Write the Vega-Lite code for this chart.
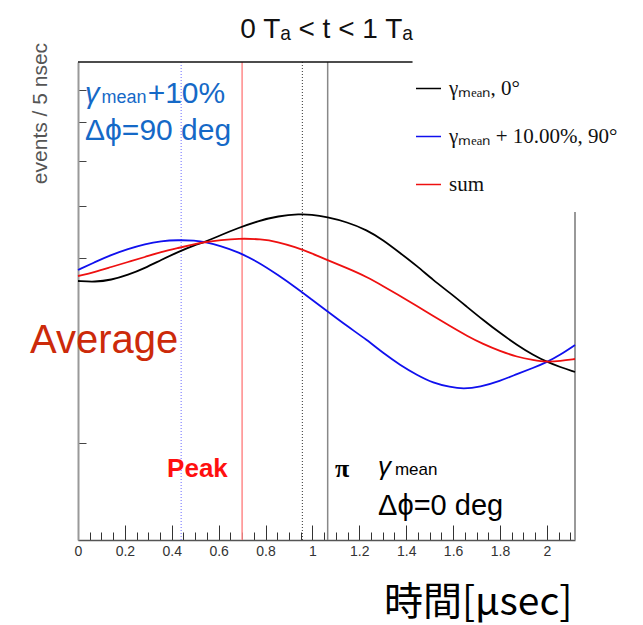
{
  "$schema": "https://vega.github.io/schema/vega-lite/v6.json",
  "width": 497,
  "height": 478,
  "autosize": {"type": "none"},
  "padding": {"left": 78, "top": 62, "right": 68, "bottom": 85},
  "background": "white",
  "config": {"view": {"stroke": null}, "axis": {"grid": false}},
  "title": {"text": "0 Tₐ < t < 1 Tₐ", "font": "Liberation Sans", "fontSize": 28, "fontWeight": "normal", "color": "#111", "anchor": "middle", "offset": 3, "dy": 5},
  "datasets": {
    "curves": [
      {"series": "γₘₑₐₙ, 0°", "t": 0.000, "v": 259},
      {"series": "γₘₑₐₙ, 0°", "t": 0.073, "v": 258},
      {"series": "γₘₑₐₙ, 0°", "t": 0.141, "v": 260},
      {"series": "γₘₑₐₙ, 0°", "t": 0.213, "v": 265},
      {"series": "γₘₑₐₙ, 0°", "t": 0.286, "v": 272},
      {"series": "γₘₑₐₙ, 0°", "t": 0.354, "v": 280},
      {"series": "γₘₑₐₙ, 0°", "t": 0.427, "v": 288},
      {"series": "γₘₑₐₙ, 0°", "t": 0.499, "v": 295},
      {"series": "γₘₑₐₙ, 0°", "t": 0.542, "v": 298},
      {"series": "γₘₑₐₙ, 0°", "t": 0.610, "v": 305},
      {"series": "γₘₑₐₙ, 0°", "t": 0.683, "v": 312},
      {"series": "γₘₑₐₙ, 0°", "t": 0.768, "v": 319},
      {"series": "γₘₑₐₙ, 0°", "t": 0.853, "v": 324},
      {"series": "γₘₑₐₙ, 0°", "t": 0.947, "v": 326},
      {"series": "γₘₑₐₙ, 0°", "t": 0.994, "v": 325.5},
      {"series": "γₘₑₐₙ, 0°", "t": 1.062, "v": 323},
      {"series": "γₘₑₐₙ, 0°", "t": 1.147, "v": 318},
      {"series": "γₘₑₐₙ, 0°", "t": 1.233, "v": 310},
      {"series": "γₘₑₐₙ, 0°", "t": 1.301, "v": 300},
      {"series": "γₘₑₐₙ, 0°", "t": 1.374, "v": 287},
      {"series": "γₘₑₐₙ, 0°", "t": 1.446, "v": 274},
      {"series": "γₘₑₐₙ, 0°", "t": 1.515, "v": 260},
      {"series": "γₘₑₐₙ, 0°", "t": 1.587, "v": 247},
      {"series": "γₘₑₐₙ, 0°", "t": 1.660, "v": 233},
      {"series": "γₘₑₐₙ, 0°", "t": 1.728, "v": 220},
      {"series": "γₘₑₐₙ, 0°", "t": 1.800, "v": 207},
      {"series": "γₘₑₐₙ, 0°", "t": 1.873, "v": 195},
      {"series": "γₘₑₐₙ, 0°", "t": 1.941, "v": 185},
      {"series": "γₘₑₐₙ, 0°", "t": 2.001, "v": 178},
      {"series": "γₘₑₐₙ, 0°", "t": 2.056, "v": 173},
      {"series": "γₘₑₐₙ, 0°", "t": 2.120, "v": 168},
      {"series": "γₘₑₐₙ + 10.00%, 90°", "t": 0.000, "v": 270},
      {"series": "γₘₑₐₙ + 10.00%, 90°", "t": 0.073, "v": 278},
      {"series": "γₘₑₐₙ + 10.00%, 90°", "t": 0.141, "v": 285},
      {"series": "γₘₑₐₙ + 10.00%, 90°", "t": 0.213, "v": 291},
      {"series": "γₘₑₐₙ + 10.00%, 90°", "t": 0.286, "v": 296},
      {"series": "γₘₑₐₙ + 10.00%, 90°", "t": 0.354, "v": 299},
      {"series": "γₘₑₐₙ + 10.00%, 90°", "t": 0.427, "v": 300},
      {"series": "γₘₑₐₙ + 10.00%, 90°", "t": 0.499, "v": 299.5},
      {"series": "γₘₑₐₙ + 10.00%, 90°", "t": 0.542, "v": 298},
      {"series": "γₘₑₐₙ + 10.00%, 90°", "t": 0.610, "v": 294},
      {"series": "γₘₑₐₙ + 10.00%, 90°", "t": 0.683, "v": 288},
      {"series": "γₘₑₐₙ + 10.00%, 90°", "t": 0.768, "v": 278},
      {"series": "γₘₑₐₙ + 10.00%, 90°", "t": 0.853, "v": 265},
      {"series": "γₘₑₐₙ + 10.00%, 90°", "t": 0.926, "v": 253},
      {"series": "γₘₑₐₙ + 10.00%, 90°", "t": 0.994, "v": 241},
      {"series": "γₘₑₐₙ + 10.00%, 90°", "t": 1.062, "v": 229},
      {"series": "γₘₑₐₙ + 10.00%, 90°", "t": 1.147, "v": 214},
      {"series": "γₘₑₐₙ + 10.00%, 90°", "t": 1.233, "v": 200},
      {"series": "γₘₑₐₙ + 10.00%, 90°", "t": 1.301, "v": 187},
      {"series": "γₘₑₐₙ + 10.00%, 90°", "t": 1.374, "v": 175},
      {"series": "γₘₑₐₙ + 10.00%, 90°", "t": 1.446, "v": 165},
      {"series": "γₘₑₐₙ + 10.00%, 90°", "t": 1.515, "v": 157},
      {"series": "γₘₑₐₙ + 10.00%, 90°", "t": 1.587, "v": 153},
      {"series": "γₘₑₐₙ + 10.00%, 90°", "t": 1.643, "v": 151},
      {"series": "γₘₑₐₙ + 10.00%, 90°", "t": 1.715, "v": 153},
      {"series": "γₘₑₐₙ + 10.00%, 90°", "t": 1.800, "v": 159},
      {"series": "γₘₑₐₙ + 10.00%, 90°", "t": 1.873, "v": 166},
      {"series": "γₘₑₐₙ + 10.00%, 90°", "t": 1.941, "v": 172},
      {"series": "γₘₑₐₙ + 10.00%, 90°", "t": 2.001, "v": 178},
      {"series": "γₘₑₐₙ + 10.00%, 90°", "t": 2.056, "v": 185},
      {"series": "γₘₑₐₙ + 10.00%, 90°", "t": 2.120, "v": 195},
      {"series": "sum", "t": 0.000, "v": 264},
      {"series": "sum", "t": 0.073, "v": 268},
      {"series": "sum", "t": 0.141, "v": 273},
      {"series": "sum", "t": 0.213, "v": 278},
      {"series": "sum", "t": 0.286, "v": 283},
      {"series": "sum", "t": 0.354, "v": 288},
      {"series": "sum", "t": 0.427, "v": 292},
      {"series": "sum", "t": 0.499, "v": 296},
      {"series": "sum", "t": 0.542, "v": 298},
      {"series": "sum", "t": 0.610, "v": 300},
      {"series": "sum", "t": 0.683, "v": 301.5},
      {"series": "sum", "t": 0.781, "v": 301},
      {"series": "sum", "t": 0.853, "v": 298},
      {"series": "sum", "t": 0.926, "v": 293},
      {"series": "sum", "t": 0.994, "v": 287},
      {"series": "sum", "t": 1.062, "v": 280},
      {"series": "sum", "t": 1.147, "v": 272},
      {"series": "sum", "t": 1.233, "v": 263},
      {"series": "sum", "t": 1.301, "v": 254},
      {"series": "sum", "t": 1.374, "v": 244},
      {"series": "sum", "t": 1.446, "v": 234},
      {"series": "sum", "t": 1.515, "v": 224},
      {"series": "sum", "t": 1.587, "v": 214},
      {"series": "sum", "t": 1.660, "v": 204},
      {"series": "sum", "t": 1.728, "v": 196},
      {"series": "sum", "t": 1.800, "v": 189},
      {"series": "sum", "t": 1.873, "v": 183},
      {"series": "sum", "t": 1.941, "v": 180},
      {"series": "sum", "t": 2.001, "v": 178},
      {"series": "sum", "t": 2.056, "v": 179},
      {"series": "sum", "t": 2.120, "v": 181}
    ],
    "vlines": [
      {"id": "blue", "t": 0.44, "v": 0, "v2": 478},
      {"id": "red", "t": 0.70, "v": 0, "v2": 478},
      {"id": "black", "t": 0.957, "v": 0, "v2": 478},
      {"id": "grey", "t": 1.065, "v": 0, "v2": 478}
    ],
    "frame": [
      {"id": "top", "t": 0, "t2": 1.427, "v": 478},
      {"id": "right", "t": 2.12, "v": 0, "v2": 328}
    ],
    "notes": [
      {"id": "blueItalic", "label": "γ", "t": 0.030, "v": 437},
      {"id": "blueSmall", "label": "mean", "t": 0.100, "v": 437},
      {"id": "blueBig", "label": "+10%", "t": 0.297, "v": 437},
      {"id": "blueBig", "label": "Δϕ=90 deg", "t": 0.030, "v": 400},
      {"id": "avg", "label": "Average", "t": -0.205, "v": 187},
      {"id": "peak", "label": "Peak", "t": 0.380, "v": 63},
      {"id": "pi", "label": "π", "t": 1.096, "v": 63},
      {"id": "blackItalic", "label": "γ", "t": 1.280, "v": 65},
      {"id": "blackSmall", "label": "mean", "t": 1.352, "v": 65},
      {"id": "blackBig", "label": "Δϕ=0 deg", "t": 1.280, "v": 25}
    ]
  },
  "encoding": {
    "x": {
      "field": "t", "type": "quantitative",
      "scale": {"domain": [0, 2.12], "nice": false, "zero": false},
      "axis": {
        "title": "時間[μsec]", "titleFont": "Noto Sans CJK JP", "titleFontSize": 39, "titleFontWeight": "normal", "titleColor": "#000",
        "titleAnchor": "end", "titleAlign": "right", "titleX": 494, "titleY": 62, "titleBaseline": "middle",
        "values": [0, 0.05, 0.1, 0.15, 0.2, 0.25, 0.3, 0.35, 0.4, 0.45, 0.5, 0.55, 0.6, 0.65, 0.7, 0.75, 0.8, 0.85, 0.9, 0.95, 1, 1.05, 1.1, 1.15, 1.2, 1.25, 1.3, 1.35, 1.4, 1.45, 1.5, 1.55, 1.6, 1.65, 1.7, 1.75, 1.8, 1.85, 1.9, 1.95, 2, 2.05, 2.1],
        "labelExpr": "abs(datum.value*5 - round(datum.value*5)) < 0.001 ? format(datum.value, '~g') : ''",
        "labelFont": "Liberation Sans", "labelFontSize": 14, "labelColor": "#333", "labelPadding": 19,
        "labelOverlap": false, "labelFlush": false,
        "tickSize": {"condition": {"test": "abs(datum.value*5 - round(datum.value*5)) < 0.001", "value": -15}, "value": -8},
        "tickColor": "#333", "tickWidth": 1,
        "domainColor": "#555", "domainWidth": 1.5
      }
    },
    "y": {
      "field": "v", "type": "quantitative",
      "scale": {"domain": [0, 478], "nice": false, "zero": false},
      "axis": {
        "title": "events / 5 nsec", "titleFont": "Liberation Sans", "titleFontSize": 21, "titleFontWeight": "normal", "titleColor": "#555",
        "titleX": -38, "titleY": 51, "titleAngle": -90, "titleAlign": "center", "titleBaseline": "middle",
        "values": [450, 418, 379, 334, 282, 97], "labels": false,
        "tickSize": -8, "tickColor": "#444", "tickWidth": 1,
        "domainColor": "#999", "domainWidth": 2
      }
    }
  },
  "layer": [
    {
      "data": {"name": "vlines"},
      "transform": [{"filter": "datum.id == 'blue'"}],
      "mark": {"type": "rule", "color": "#6a6aff", "strokeWidth": 1, "strokeDash": [1, 2]},
      "encoding": {"y2": {"field": "v2"}}
    },
    {
      "data": {"name": "vlines"},
      "transform": [{"filter": "datum.id == 'red'"}],
      "mark": {"type": "rule", "color": "#ff8a8a", "strokeWidth": 1.5},
      "encoding": {"y2": {"field": "v2"}}
    },
    {
      "data": {"name": "vlines"},
      "transform": [{"filter": "datum.id == 'black'"}],
      "mark": {"type": "rule", "color": "#333", "strokeWidth": 1, "strokeDash": [1, 2]},
      "encoding": {"y2": {"field": "v2"}}
    },
    {
      "data": {"name": "vlines"},
      "transform": [{"filter": "datum.id == 'grey'"}],
      "mark": {"type": "rule", "color": "#888", "strokeWidth": 1.5},
      "encoding": {"y2": {"field": "v2"}}
    },
    {
      "data": {"name": "frame"},
      "transform": [{"filter": "datum.id == 'top'"}],
      "mark": {"type": "rule", "color": "#111", "strokeWidth": 1.5},
      "encoding": {"x2": {"field": "t2"}}
    },
    {
      "data": {"name": "frame"},
      "transform": [{"filter": "datum.id == 'right'"}],
      "mark": {"type": "rule", "color": "#999", "strokeWidth": 2},
      "encoding": {"y2": {"field": "v2"}}
    },
    {
      "data": {"name": "curves"},
      "mark": {"type": "line", "strokeWidth": 1.8, "interpolate": "basis"},
      "encoding": {
        "color": {
          "field": "series", "type": "nominal",
          "scale": {"domain": ["γₘₑₐₙ, 0°", "γₘₑₐₙ + 10.00%, 90°", "sum"], "range": ["#000000", "#1010ee", "#ee1010"]},
          "legend": {
            "title": null, "orient": "none", "legendX": 337, "legendY": 13,
            "symbolType": "stroke", "symbolSize": 625, "symbolStrokeWidth": 1.5,
            "labelFont": "Liberation Serif", "labelFontSize": 21, "labelColor": "#111", "labelOffset": 7,
            "rowPadding": 24, "padding": 0, "labelLimit": 300
          }
        }
      }
    },
    {
      "data": {"name": "notes"},
      "transform": [{"filter": "datum.id == 'blueItalic'"}],
      "mark": {"type": "text", "align": "left", "baseline": "alphabetic", "font": "Liberation Sans", "fontStyle": "italic", "fontSize": 29, "color": "#1569c7"},
      "encoding": {"text": {"field": "label"}}
    },
    {
      "data": {"name": "notes"},
      "transform": [{"filter": "datum.id == 'blueSmall'"}],
      "mark": {"type": "text", "align": "left", "baseline": "alphabetic", "font": "Liberation Sans", "fontSize": 18, "color": "#1569c7"},
      "encoding": {"text": {"field": "label"}}
    },
    {
      "data": {"name": "notes"},
      "transform": [{"filter": "datum.id == 'blueBig'"}],
      "mark": {"type": "text", "align": "left", "baseline": "alphabetic", "font": "Liberation Sans", "fontSize": 30, "color": "#1569c7"},
      "encoding": {"text": {"field": "label"}}
    },
    {
      "data": {"name": "notes"},
      "transform": [{"filter": "datum.id == 'avg'"}],
      "mark": {"type": "text", "align": "left", "baseline": "alphabetic", "font": "Liberation Sans", "fontSize": 40, "color": "#cc2a0a"},
      "encoding": {"text": {"field": "label"}}
    },
    {
      "data": {"name": "notes"},
      "transform": [{"filter": "datum.id == 'peak'"}],
      "mark": {"type": "text", "align": "left", "baseline": "alphabetic", "font": "Liberation Sans", "fontWeight": "bold", "fontSize": 26, "color": "#ff1010"},
      "encoding": {"text": {"field": "label"}}
    },
    {
      "data": {"name": "notes"},
      "transform": [{"filter": "datum.id == 'pi'"}],
      "mark": {"type": "text", "align": "left", "baseline": "alphabetic", "font": "Liberation Serif", "fontWeight": "bold", "fontSize": 26, "color": "#000"},
      "encoding": {"text": {"field": "label"}}
    },
    {
      "data": {"name": "notes"},
      "transform": [{"filter": "datum.id == 'blackItalic'"}],
      "mark": {"type": "text", "align": "left", "baseline": "alphabetic", "font": "Liberation Sans", "fontStyle": "italic", "fontSize": 26, "color": "#000"},
      "encoding": {"text": {"field": "label"}}
    },
    {
      "data": {"name": "notes"},
      "transform": [{"filter": "datum.id == 'blackSmall'"}],
      "mark": {"type": "text", "align": "left", "baseline": "alphabetic", "font": "Liberation Sans", "fontSize": 17, "color": "#000"},
      "encoding": {"text": {"field": "label"}}
    },
    {
      "data": {"name": "notes"},
      "transform": [{"filter": "datum.id == 'blackBig'"}],
      "mark": {"type": "text", "align": "left", "baseline": "alphabetic", "font": "Liberation Sans", "fontSize": 29, "color": "#000"},
      "encoding": {"text": {"field": "label"}}
    }
  ]
}
